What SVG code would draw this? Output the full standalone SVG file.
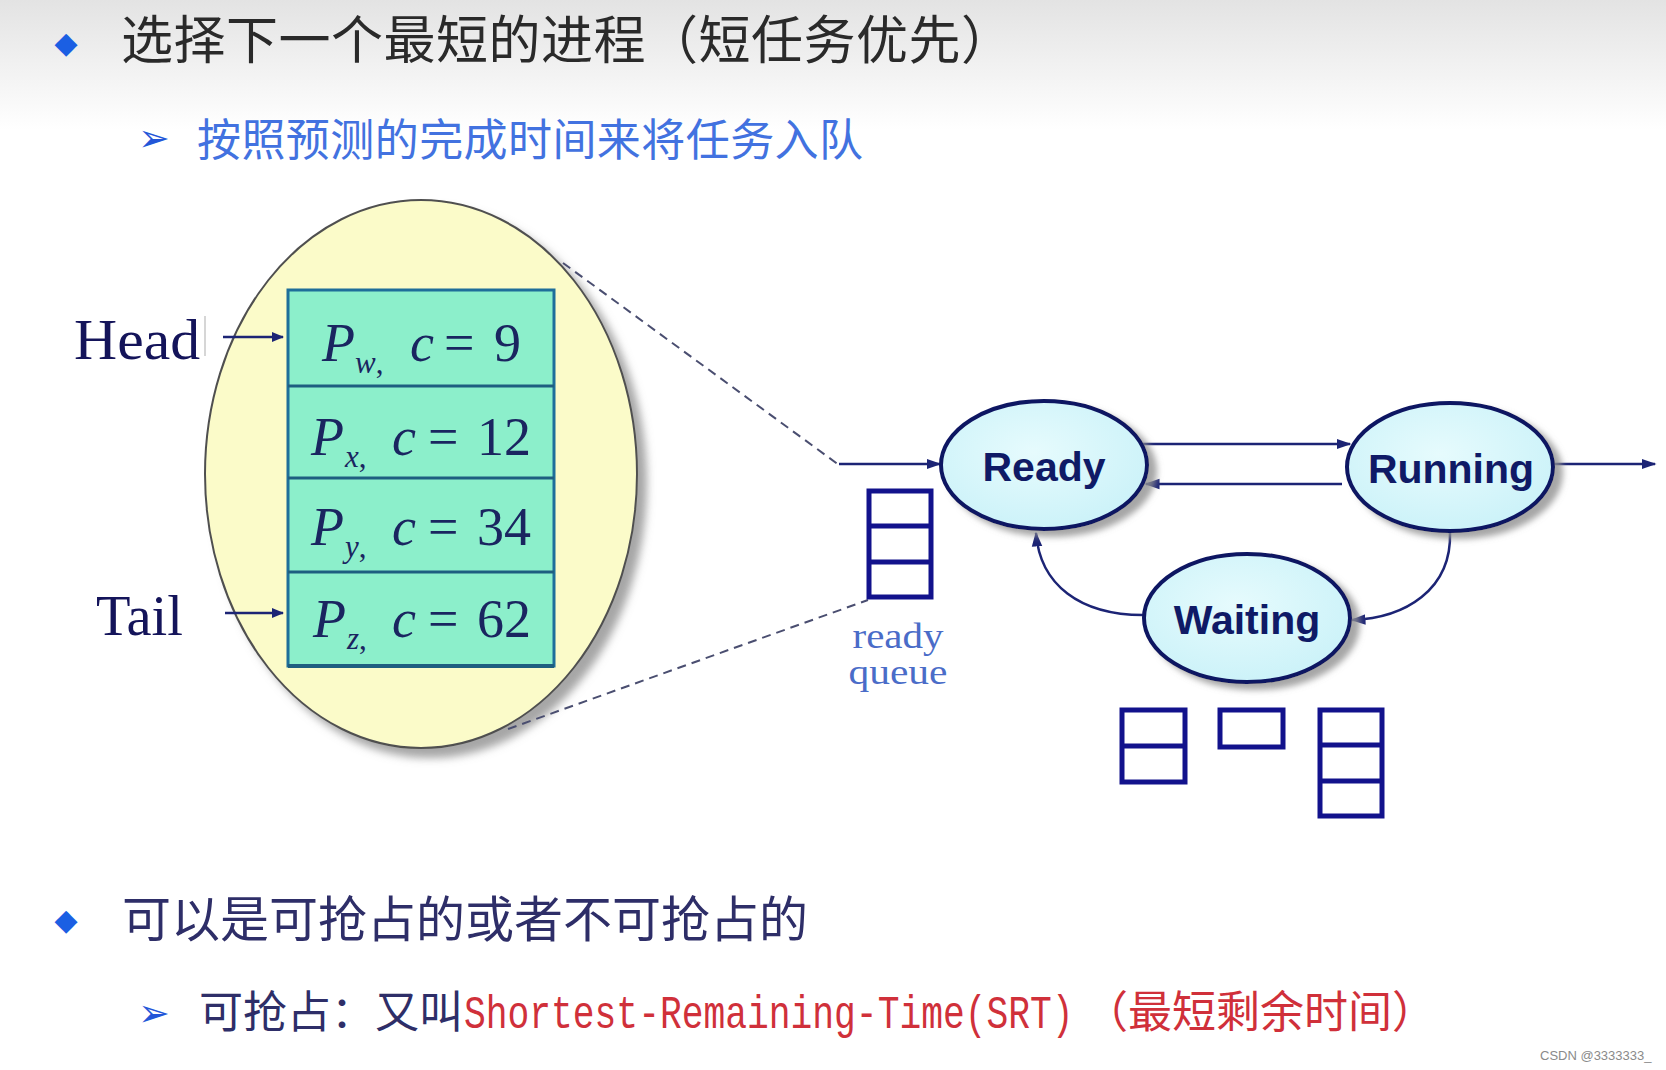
<svg xmlns="http://www.w3.org/2000/svg" width="1666" height="1070" viewBox="0 0 1666 1070">
<style>
.cjk{font-family:"Noto Sans CJK SC","Noto Sans",sans-serif}
.times{font-family:"Liberation Serif",serif}
.state{font-family:"Liberation Sans",Arial,sans-serif;font-weight:bold;font-size:41px;fill:#0f1a66;text-anchor:middle}
.cell{font-family:"Liberation Serif",serif;font-size:54px;fill:#1a2560}
.cell .it{font-style:italic}
.sub{font-size:31px}
.qbox{fill:none;stroke:#12128c;stroke-width:5}
.conn{fill:none;stroke:#1c2475;stroke-width:2.5}
.dash{fill:none;stroke:#4a4e70;stroke-width:2;stroke-dasharray:9 6}
.stateEl{fill:url(#stateFill);stroke:#0e1662;stroke-width:4}
.bullet{font-family:"DejaVu Sans",sans-serif}
</style>
<defs>
<linearGradient id="topbg" x1="0" y1="0" x2="0" y2="1">
<stop offset="0" stop-color="#e3e3e3"/>
<stop offset="1" stop-color="#ffffff"/>
</linearGradient>
<radialGradient id="stateFill" cx="0.45" cy="0.4" r="0.7">
<stop offset="0" stop-color="#e6fbfd"/>
<stop offset="1" stop-color="#c8f1f8"/>
</radialGradient>
<filter id="shadow" x="-20%" y="-20%" width="150%" height="150%">
<feDropShadow dx="9" dy="9" stdDeviation="4" flood-color="#808080" flood-opacity="0.7"/>
</filter>
<filter id="shadow2" x="-20%" y="-20%" width="150%" height="150%">
<feDropShadow dx="8" dy="6" stdDeviation="3" flood-color="#909090" flood-opacity="0.8"/>
</filter>
<marker id="arr" viewBox="0 0 10 10" refX="9" refY="5" markerWidth="5" markerHeight="5" orient="auto" markerUnits="strokeWidth">
<path d="M0,1 L10,5 L0,9 Z" fill="#1c2475"/>
</marker>
<marker id="arrS" viewBox="0 0 10 10" refX="9" refY="5" markerWidth="6" markerHeight="6" orient="auto" markerUnits="strokeWidth">
<path d="M0,1.5 L10,5 L0,8.5 Z" fill="#1c2475"/>
</marker>
</defs>

<rect x="0" y="0" width="1666" height="1070" fill="#ffffff"/>
<rect x="0" y="0" width="1666" height="130" fill="url(#topbg)"/>

<g id="title">
<text class="bullet" x="66" y="53" font-size="30" fill="#1b5fe3" text-anchor="middle">◆</text>
<text class="cjk" x="121" y="59" font-size="52" fill="#2a2a2a" textLength="892" lengthAdjust="spacing">选择下一个最短的进程（短任务优先）</text>
</g>
<g id="subtitle">
<text class="bullet" x="154" y="151" font-size="38" fill="#2356d8" text-anchor="middle">➢</text>
<text class="cjk" x="197" y="156" font-size="44" fill="#4272e0" textLength="666" lengthAdjust="spacing">按照预测的完成时间来将任务入队</text>
</g>

<g id="zoom-ellipse">
<ellipse cx="421" cy="474" rx="216" ry="274" fill="#fbfbc9" stroke="#505050" stroke-width="2" filter="url(#shadow)"/>
</g>

<g id="connectors">
<line class="dash" x1="563" y1="263" x2="839" y2="465"/>
<line class="dash" x1="508" y1="729" x2="868" y2="600"/>
<line class="conn" x1="223" y1="337" x2="283" y2="337" marker-end="url(#arr)"/>
<line class="conn" x1="225" y1="613" x2="283" y2="613" marker-end="url(#arr)"/>
<line class="conn" x1="839" y1="464" x2="940" y2="464" marker-end="url(#arrS)"/>
<line class="conn" x1="1142" y1="444" x2="1350" y2="444" marker-end="url(#arrS)"/>
<line class="conn" x1="1342" y1="484" x2="1146" y2="484" marker-end="url(#arrS)"/>
<line class="conn" x1="1553" y1="464" x2="1655" y2="464" marker-end="url(#arrS)"/>
<path class="conn" d="M1450 532 C1452 590 1405 618 1352 620" marker-end="url(#arrS)"/>
<path class="conn" d="M1143 615 C1080 615 1040 585 1036 533" marker-end="url(#arrS)"/>
</g>

<g id="head-label">
<text class="times" x="74" y="359" font-size="58" fill="#14145a" textLength="126" lengthAdjust="spacingAndGlyphs">Head</text>
<line x1="205" y1="316" x2="205" y2="356" stroke="#c8c8c8" stroke-width="1.5"/>
</g>
<g id="tail-label">
<text class="times" x="96" y="635" font-size="58" fill="#14145a" textLength="87" lengthAdjust="spacingAndGlyphs">Tail</text>
</g>

<g id="queue-table">
<rect x="288" y="290" width="266" height="376" fill="#8cefcb" stroke="#1e6e9a" stroke-width="3"/>
<line x1="288" y1="386" x2="554" y2="386" stroke="#1e5e80" stroke-width="3"/>
<line x1="288" y1="478" x2="554" y2="478" stroke="#1e5e80" stroke-width="3"/>
<line x1="288" y1="572" x2="554" y2="572" stroke="#1e5e80" stroke-width="3"/>
<line x1="288" y1="666" x2="554" y2="666" stroke="#1e5e80" stroke-width="4"/>
</g>
<g id="cell-w" class="cell">
<text x="322" y="361" class="it">P</text>
<text x="355" y="373" class="sub"><tspan font-style="italic">w</tspan>,</text>
<text x="410" y="361" class="it">c</text>
<text x="444" y="361">=</text>
<text x="494" y="361">9</text>
</g>
<g id="cell-x" class="cell">
<text x="311" y="455" class="it">P</text>
<text x="345" y="467" class="sub"><tspan font-style="italic">x</tspan>,</text>
<text x="392" y="455" class="it">c</text>
<text x="428" y="455">=</text>
<text x="477" y="455">12</text>
</g>
<g id="cell-y" class="cell">
<text x="311" y="545" class="it">P</text>
<text x="345" y="557" class="sub"><tspan font-style="italic">y</tspan>,</text>
<text x="392" y="545" class="it">c</text>
<text x="428" y="545">=</text>
<text x="477" y="545">34</text>
</g>
<g id="cell-z" class="cell">
<text x="313" y="637" class="it">P</text>
<text x="347" y="649" class="sub"><tspan font-style="italic">z</tspan>,</text>
<text x="392" y="637" class="it">c</text>
<text x="428" y="637">=</text>
<text x="477" y="637">62</text>
</g>

<g id="ready-queue">
<rect class="qbox" x="869" y="491" width="62" height="106"/>
<line class="qbox" x1="869" y1="526" x2="931" y2="526"/>
<line class="qbox" x1="869" y1="562" x2="931" y2="562"/>
<text class="times" x="898" y="648" font-size="35" fill="#4a6cc8" text-anchor="middle" textLength="91" lengthAdjust="spacingAndGlyphs">ready</text>
<text class="times" x="898" y="684" font-size="35" fill="#4a6cc8" text-anchor="middle" textLength="99" lengthAdjust="spacingAndGlyphs">queue</text>
</g>

<g id="ready">
<ellipse class="stateEl" cx="1044" cy="465" rx="103" ry="64" filter="url(#shadow2)"/>
<text class="state" x="1044" y="481">Ready</text>
</g>
<g id="running">
<ellipse class="stateEl" cx="1450" cy="467" rx="103" ry="64" filter="url(#shadow2)"/>
<text class="state" x="1451" y="483">Running</text>
</g>
<g id="waiting">
<ellipse class="stateEl" cx="1247" cy="618" rx="103" ry="64" filter="url(#shadow2)"/>
<text class="state" x="1247" y="634">Waiting</text>
</g>

<g id="wait-queue-1">
<rect class="qbox" x="1122" y="710" width="63" height="72"/>
<line class="qbox" x1="1122" y1="746" x2="1185" y2="746"/>
</g>
<g id="wait-queue-2">
<rect class="qbox" x="1220" y="710" width="63" height="37"/>
</g>
<g id="wait-queue-3">
<rect class="qbox" x="1320" y="710" width="62" height="106"/>
<line class="qbox" x1="1320" y1="745" x2="1382" y2="745"/>
<line class="qbox" x1="1320" y1="781" x2="1382" y2="781"/>
</g>

<g id="bullet2">
<text class="bullet" x="66" y="930" font-size="30" fill="#1b5fe3" text-anchor="middle">◆</text>
<text class="cjk" x="122" y="937" font-size="49" fill="#2e2e68">可以是可抢占的或者不可抢占的</text>
</g>
<g id="subbullet2">
<text class="bullet" x="154" y="1026" font-size="38" fill="#2356d8" text-anchor="middle">➢</text>
<text class="cjk" x="199" y="1028" font-size="44" fill="#2e2e68">可抢占：又叫</text>
<text transform="scale(0.789,1)" x="588" y="1028" font-family="Liberation Mono,monospace" font-size="46" fill="#d0303a">Shortest-Remaining-Time(SRT)</text>
<text class="cjk" x="1084" y="1028" font-size="44" fill="#d0303a">（最短剩余时间）</text>
</g>
<text x="1540" y="1060" font-family="Liberation Sans,Arial,sans-serif" font-size="13" fill="#8a8a8a">CSDN @3333333_</text>
</svg>
